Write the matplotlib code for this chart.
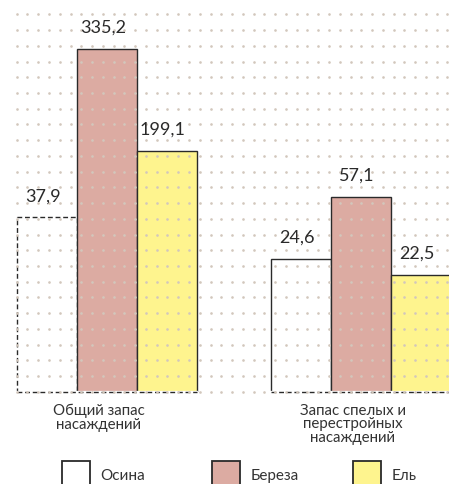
import numpy as np
import matplotlib
matplotlib.use("Agg")
import matplotlib.pyplot as plt
from matplotlib.patches import Patch

plt.rcParams['font.family'] = ['Lato', 'DejaVu Sans']

# data
groups = ["Общий запас\nнасаждений", "Запас спелых и\nперестройных\nнасаждений"]
species = ["Осина", "Береза", "Ель"]
colors = ["#ffffff", "#dcaba2", "#fef48e"]
values = {
    "Осина": [37.9, 24.6],
    "Береза": [335.2, 57.1],
    "Ель": [199.1, 22.5],
}
# bar heights as drawn in the picture (not proportional to the values)
heights = {
    "Осина": [174.4, 132.7],
    "Береза": [342.7, 195.0],
    "Ель": [241.0, 116.7],
}

W, H = 449, 485
base_px = 392.7
fig = plt.figure(figsize=(W / 100, H / 100), dpi=100)
b = (H - base_px) / H
ax = fig.add_axes([0, b, 1, 1 - b])
ax.axis('off')

gap_px = 254.0
width = 60 / gap_px
x = np.arange(len(groups))
ax.set_xlim(-107 / gap_px, (W - 107) / gap_px)
ax.set_ylim(0, base_px)

edge = "#2a2a2a"
for i, sp in enumerate(species):
    bars = ax.bar(x + (i - 1) * width, heights[sp], width, color=colors[i],
                  edgecolor=edge, linewidth=1.0, zorder=2)
    if sp == "Осина":
        bars[0].set_linestyle((0, (3.5, 2)))
    for xi, h, v in zip(x + (i - 1) * width, heights[sp], values[sp]):
        ax.annotate(f"{v:.1f}".replace('.', ','), (xi, h), xytext=(-3, 10),
                    textcoords='offset points', ha='center', va='bottom',
                    fontsize=13, color="#2a2a2a", zorder=6)

# dashed bottom line under each group
for g in x:
    xs = [g - 1.5 * width, g + 1.5 * width]
    ax.plot(xs, [0, 0], color="white", lw=1.6, zorder=3, clip_on=False)
    ax.plot(xs, [0, 0], color=edge, lw=1.0, ls=(0, (3.5, 2)), zorder=3,
            clip_on=False)

# dotted background grid, drawn over the bars
gx = (16.7 + 10.77 * np.arange(41)) / W
gy = np.arange(25) * 15.72 / base_px
GX, GY = np.meshgrid(gx, gy)
ax.scatter(GX.ravel(), GY.ravel(), s=3.6, color="#d2c7bc", lw=0,
           transform=ax.transAxes, zorder=4, clip_on=False)

# group labels
for g, lab in zip(x, groups):
    ax.annotate(lab, (g, 0), xytext=(-6, -8), textcoords='offset points',
                ha='center', va='top', fontsize=10.8, color="#333333",
                linespacing=0.95)

# legend
legend_x = [62, 212, 353]
for sp, c, lx in zip(species, colors, legend_x):
    fig.legend(handles=[Patch(facecolor=c, edgecolor=edge, lw=1.3)],
               labels=[sp], loc='upper left',
               bbox_to_anchor=(lx / W, 1 - 462 / H), frameon=False,
               borderpad=0, borderaxespad=0, handlelength=1.8,
               handleheight=2.2, handletextpad=0.7, fontsize=11,
               labelcolor="#333333")

fig.savefig("out.png", dpi=100)
